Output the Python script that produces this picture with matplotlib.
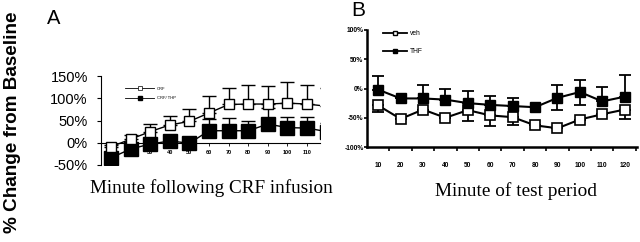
import numpy as np
import matplotlib.pyplot as plt
from matplotlib.lines import Line2D

# Panel A: % change after CRF infusion
minutes_a = [10, 20, 30, 40, 50, 60, 70, 80, 90, 100, 110, 120]
crf = [-9, 8, 25, 40, 48, 67, 86, 87, 87, 89, 87, 82]
crf_err = [3, 9, 17, 21, 28, 38, 37, 43, 40, 47, 43, 40]
crf_thp = [-34, -14, -3, 4, -1, 27, 27, 27, 42, 34, 33, 25]
crf_thp_err = [0, 0, 0, 0, 0, 27, 28, 22, 35, 24, 24, 20]

# Panel B: % change during test period
minutes_b = [10, 20, 30, 40, 50, 60, 70, 80, 90, 100, 110, 120]
veh = [-29, -52, -36, -50, -37, -46, -49, -63, -68, -53, -44, -36]
veh_err_low = [11, 0, 0, 0, 18, 18, 13, 0, 0, 0, 0, 16]
thf = [-2, -17, -17, -19, -25, -28, -30, -32, -16, -6, -22, -14]
thf_err_up = [23, 0, 23, 19, 21, 15, 14, 0, 22, 20, 24, 37]
thf_err_low = [0, 0, 0, 0, 0, 0, 0, 0, 21, 23, 0, 0]

W, H = 640, 242
fig = plt.figure(figsize=(6.4, 2.42), dpi=100)
fig.patch.set_facecolor("white")
sans = ["Liberation Sans", "DejaVu Sans"]
serif = ["Liberation Serif", "DejaVu Serif"]

# ---------- panel A ----------
axA = fig.add_axes([101 / W, 1 - 165 / H, (320 - 101) / W, (165 - 76) / H])
# spine position first: moving it resets the tick styling
axA.spines["bottom"].set_position(("data", 0))
axA.spines["top"].set_visible(False)
axA.spines["right"].set_visible(False)
axA.spines["left"].set_linewidth(0.8)
axA.spines["bottom"].set_linewidth(0.8)

axA.errorbar(minutes_a, crf, yerr=[np.zeros(len(crf)), crf_err], fmt="none",
             ecolor="black", elinewidth=1, capsize=5, capthick=1, zorder=2)
axA.errorbar(minutes_a, crf_thp, yerr=[np.zeros(len(crf_thp)), crf_thp_err], fmt="none",
             ecolor="black", elinewidth=1, capsize=5, capthick=1, zorder=2)
axA.plot(minutes_a, crf, "-s", color="black", lw=1, ms=7, mfc="white", mec="black",
         mew=1, zorder=4)
axA.plot(minutes_a, crf_thp, "-s", color="black", lw=1, ms=9.5, mfc="black", mec="black",
         zorder=3)
axA.set_xlim(4.9, 116.6)
axA.set_ylim(-50, 150)
axA.set_yticks([-50, 0, 50, 100, 150])
axA.set_yticklabels(["-50%", "0%", "50%", "100%", "150%"], family=sans, fontsize=10.5)
axA.set_xticks(minutes_a[:-1])
axA.set_xticklabels([str(m) for m in minutes_a[:-1]], family=sans, fontsize=4,
                    fontweight="bold")
axA.tick_params(axis="y", length=3, width=0.8, pad=6.5)
axA.tick_params(axis="x", length=2, width=0.6, pad=3)
axA.set_facecolor("none")

hA = [Line2D([], [], color="black", lw=0.6, marker="s", ms=2.5, mfc="white", mew=0.5),
      Line2D([], [], color="black", lw=0.6, marker="s", ms=2.5, mfc="black")]
fig.legend(hA, ["CRF", "CRF/ THP"], loc="center left",
           bbox_to_anchor=(125 / W, 1 - 93.5 / H), frameon=False,
           prop={"family": sans, "size": 3}, handlelength=7, handletextpad=0.6,
           labelspacing=1.3, borderpad=0, borderaxespad=0)

# ---------- panel B ----------
axB = fig.add_axes([367 / W, 1 - 147 / H, (637 - 367) / W, (147 - 30) / H])
axB.errorbar(minutes_b, veh, yerr=[veh_err_low, np.zeros(len(veh))], fmt="none",
             ecolor="black", elinewidth=1.3, capsize=4, capthick=1.3, zorder=2)
axB.errorbar(minutes_b, thf, yerr=[thf_err_low, thf_err_up], fmt="none",
             ecolor="black", elinewidth=1.3, capsize=4, capthick=1.3, zorder=2)
axB.plot(minutes_b, veh, "-s", color="black", lw=1.5, ms=7.5, mfc="white", mec="black",
         mew=1.2, zorder=3)
axB.plot(minutes_b, thf, "-s", color="black", lw=1.5, ms=7.5, mfc="black", mec="black",
         zorder=4)
axB.set_xlim(5, 125.5)
axB.set_ylim(-100, 100)
axB.set_yticks([-100, -50, 0, 50, 100])
axB.set_yticklabels(["-100%", "-50%", "0%", "50%", "100%"], family=sans, fontsize=4.8,
                    fontweight="bold")
axB.set_xticks(minutes_b)
axB.set_xticklabels([str(m) for m in minutes_b], family=sans, fontsize=4.8,
                    fontweight="bold")
axB.set_xticks([m + 5 for m in minutes_b], minor=True)
axB.tick_params(axis="x", which="major", length=0, pad=11)
axB.tick_params(axis="x", which="minor", length=3, width=1.2)
axB.tick_params(axis="y", length=2, width=1.2, pad=0.5)
axB.spines["top"].set_visible(False)
axB.spines["right"].set_visible(False)
axB.spines["left"].set_linewidth(1.8)
axB.spines["bottom"].set_linewidth(1.8)

hB = [Line2D([], [], color="black", lw=1.3, marker="s", ms=3.5, mfc="white", mew=1),
      Line2D([], [], color="black", lw=1.3, marker="s", ms=3.5, mfc="black")]
fig.legend(hB, ["veh", "THF"], loc="center left",
           bbox_to_anchor=(383 / W, 1 - 42.5 / H), frameon=False,
           prop={"family": sans, "size": 4.8}, handlelength=3.6, handletextpad=0.4,
           labelspacing=1.6, borderpad=0, borderaxespad=0)

# ---------- texts ----------
fig.text(47 / W, 1 - 19 / H, "A", family=sans, fontsize=14.5, va="center", ha="left")
fig.text(351 / W, 1 - 11 / H, "B", family=sans, fontsize=15, va="center", ha="left")
fig.text(13 / W, 1 - 122 / H, "% Change from Baseline", family=sans, fontsize=13.6,
         fontweight="bold", rotation=90, va="center", ha="center")
fig.text(211 / W, 1 - 193 / H, "Minute following CRF infusion", family=serif,
         fontsize=13.8, ha="center", va="baseline")
fig.text(516 / W, 1 - 196 / H, "Minute of test period", family=serif,
         fontsize=13.9, ha="center", va="baseline")

fig.savefig("out.png", dpi=100, facecolor="white")
